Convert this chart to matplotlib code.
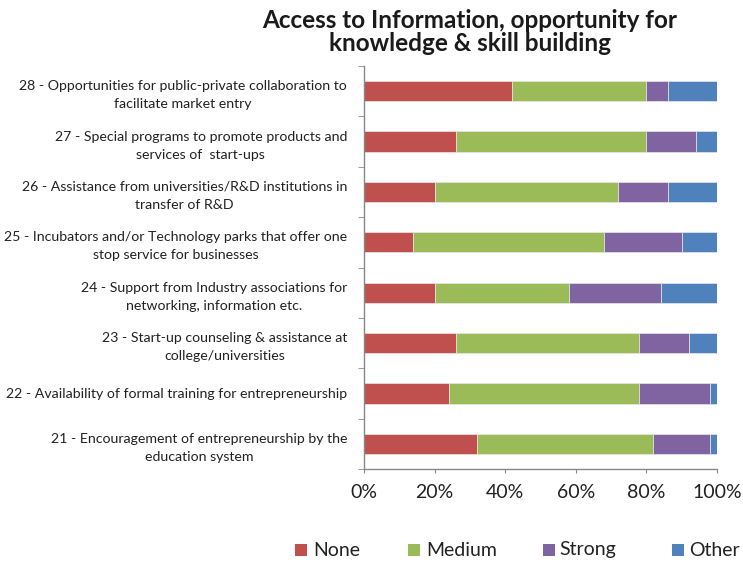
import matplotlib
matplotlib.use("Agg")
import matplotlib.pyplot as plt
import numpy as np
from matplotlib.patches import Rectangle

plt.rcParams['font.family'] = ['Lato', 'DejaVu Sans']

categories = [
    "21 - Encouragement of entrepreneurship by the\neducation system",
    "22 - Availability of formal training for entrepreneurship",
    "23 - Start-up counseling & assistance at\ncollege/universities",
    "24 - Support from Industry associations for\nnetworking, information etc.",
    "25 - Incubators and/or Technology parks that offer one\nstop service for businesses",
    "26 - Assistance from universities/R&D institutions in\ntransfer of R&D",
    "27 - Special programs to promote products and\nservices of  start-ups",
    "28 - Opportunities for public-private collaboration to\nfacilitate market entry",
]
none_vals = [32, 24, 26, 20, 14, 20, 26, 42]
medium_vals = [50, 54, 52, 38, 54, 52, 54, 38]
strong_vals = [16, 20, 14, 26, 22, 14, 14, 6]
other_vals = [2, 2, 8, 16, 10, 14, 6, 14]

series_names = ["None", "Medium", "Strong", "Other"]
series_colors = ["#C0504D", "#9BBB59", "#8064A2", "#4F81BD"]
x_ticks = [0, 20, 40, 60, 80, 100]
x_tick_labels = ["0%", "20%", "40%", "60%", "80%", "100%"]

W, H = 743, 563
fig = plt.figure(figsize=(W / 100, H / 100), dpi=100)
ax = fig.add_axes([364 / W, 1 - 469 / H, 353 / W, 403 / H])

y = np.arange(len(categories))
left = np.zeros(len(categories))
for vals, color in zip([none_vals, medium_vals, strong_vals, other_vals], series_colors):
    vals = np.array(vals, dtype=float)
    ax.barh(y, vals, left=left, height=0.4, color=color,
            edgecolor="#e8e8e8", linewidth=0.5)
    left += vals

ax.set_xlim(0, 100)
ax.set_ylim(-0.5, len(categories) - 0.5)
ax.set_xticks(x_ticks)
ax.set_xticklabels(x_tick_labels, fontsize=14, color="#222222")
ax.set_yticks(y)
ax.set_yticklabels(categories, fontsize=10.2, multialignment="center",
                   color="#222222", linespacing=1.6)
ax.set_yticks(np.arange(-0.5, len(categories), 1), minor=True)
ax.tick_params(axis="y", which="major", length=0, pad=12.2)
ax.tick_params(axis="y", which="minor", length=4, color="#888888", direction="out")
ax.tick_params(axis="x", length=3, color="#888888", pad=8)

for side in ["top", "right"]:
    ax.spines[side].set_visible(False)
for side in ["left", "bottom"]:
    ax.spines[side].set_color("#888888")
    ax.spines[side].set_linewidth(1.0)

fig.text(470 / W, 1 - 32 / H, "Access to Information, opportunity for\nknowledge & skill building",
         ha="center", va="center", fontsize=17.5, fontweight="bold",
         linespacing=1.05, color="#1a1a1a")

# legend entries laid out along the bottom edge
swatch_x = [295, 408, 543, 672]
label_x = [313, 426, 559, 689]
legend_y = 550
for name, color, sx, lx in zip(series_names, series_colors, swatch_x, label_x):
    fig.patches.append(Rectangle((sx / W, 1 - (legend_y + 6) / H), 12 / W, 12 / H,
                                 transform=fig.transFigure, facecolor=color,
                                 edgecolor="none"))
    fig.text(lx / W, 1 - legend_y / H, name, ha="left", va="center",
             fontsize=14, color="#222222")

fig.savefig("out.png", dpi=100)
